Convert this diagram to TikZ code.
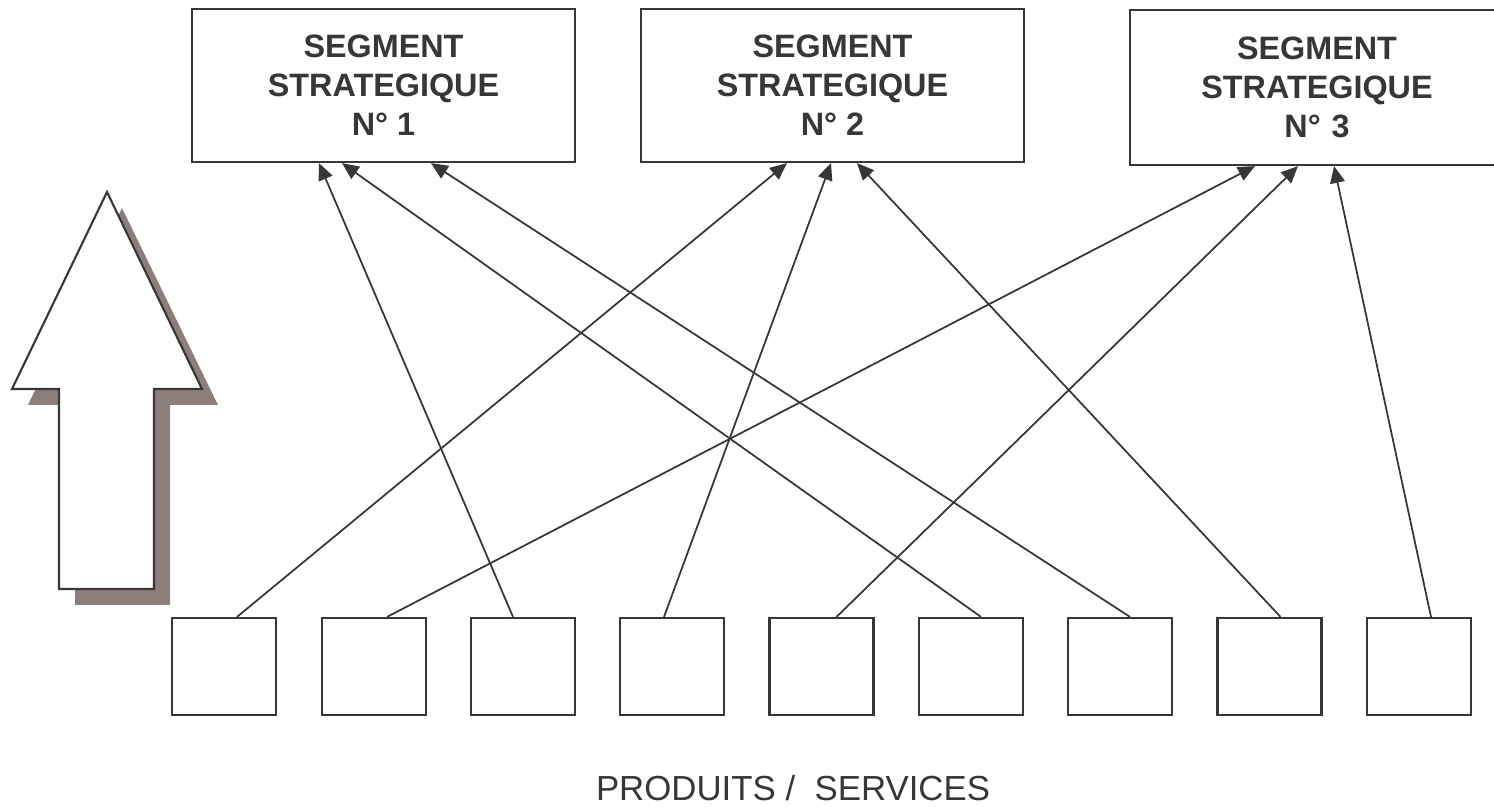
\documentclass[tikz,border=0pt]{standalone}
\usepackage{fontspec}
\setmainfont{Liberation Sans}
\usetikzlibrary{arrows.meta}

\definecolor{ink}{RGB}{55,55,58}
\definecolor{shadowtone}{RGB}{140,127,123}

\tikzset{
  segbox/.style={draw=ink, line width=0.6pt, fill=white, inner sep=0pt,
    minimum width=3.83cm, minimum height=1.53cm, align=center, text=ink,
    font=\fontsize{9.2}{11.1}\selectfont\bfseries},
  prodbox/.style={draw=ink, line width=0.6pt, fill=white, inner sep=0pt,
    minimum width=1.04cm, minimum height=0.97cm},
  link/.style={draw=ink, line width=0.5pt,
    -{Triangle[length=4.8pt, width=4.2pt]}},
  bigarrow/.style={draw=ink, line width=0.6pt, fill=white, line join=miter},
}

\begin{document}
\begin{tikzpicture}[x=0.01cm, y=-0.01cm]
  \useasboundingbox (0,0) rectangle (1494,807);
  \clip (0,0) rectangle (1494,807);

  % upward arrow with its offset shadow
  \fill[shadowtone] (122,208) -- (218,405) -- (170,405) -- (170,605) -- (75,605)
    -- (75,405) -- (28,405) -- cycle;
  \draw[bigarrow] (107,192) -- (202,389) -- (154,389) -- (154,589) -- (59,589)
    -- (59,389) -- (12,389) -- cycle;

  % strategic segments
  \node[segbox] (s1) at (383.5,85.5) {SEGMENT\\STRATEGIQUE\\N° 1};
  \node[segbox] (s2) at (832.5,85.5) {SEGMENT\\STRATEGIQUE\\N° 2};
  \node[segbox, minimum width=3.74cm, minimum height=1.55cm,
    text width=3.74cm] (s3) at (1317,87.5) {SEGMENT\\STRATEGIQUE\\N° 3};

  % products / services
  \foreach \i/\x in {1/224, 2/374, 3/523, 4/672, 5/821.5, 6/971, 7/1120, 8/1269.5, 9/1419}
    \node[prodbox] (p\i) at (\x,666.5) {};

  \node[text=ink, font=\fontsize{9.9}{12}\selectfont, anchor=base]
    (label) at (793,800) {PRODUITS /\ \ SERVICES};

  % links from each product to its segment
  \draw[link] ([xshift=0.13cm]p1.north)  -- ([xshift=-0.455cm]s2.south);
  \draw[link] ([xshift=0.13cm]p2.north)  -- ([xshift=-0.62cm]s3.south);
  \draw[link] ([xshift=-0.10cm]p3.north) -- ([xshift=-0.645cm]s1.south);
  \draw[link] ([xshift=-0.08cm]p4.north) -- ([xshift=-0.015cm]s2.south);
  \draw[link] ([xshift=0.15cm]p5.north)  -- ([xshift=-0.19cm]s3.south);
  \draw[link] ([xshift=0.10cm]p6.north)  -- ([xshift=-0.415cm]s1.south);
  \draw[link] ([xshift=0.10cm]p7.north)  -- ([xshift=0.475cm]s1.south);
  \draw[link] ([xshift=0.11cm]p8.north)  -- ([xshift=0.245cm]s2.south);
  \draw[link] ([xshift=0.12cm]p9.north)  -- ([xshift=0.17cm]s3.south);
\end{tikzpicture}
\end{document}
